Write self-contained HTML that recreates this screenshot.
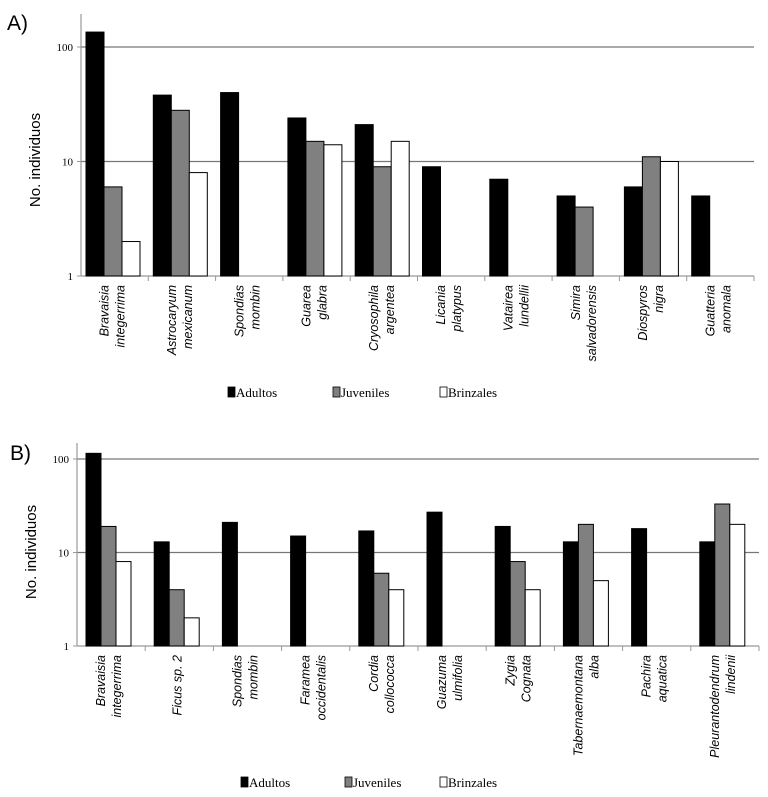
<!DOCTYPE html>
<html><head><meta charset="utf-8"><style>
body{margin:0;background:#fff;}
svg{display:block;}
</style></head><body>
<svg id="chart" width="768" height="797" viewBox="0 0 768 797" font-family="Liberation Sans, sans-serif"></svg>
<script>
const catsA = [["Bravaisia","integerrima"],["Astrocaryum","mexicanum"],["Spondias","mombin"],["Guarea","glabra"],["Cryosophila","argentea"],["Licania","platypus"],["Vatairea","lundellii"],["Simira","salvadorensis"],["Diospyros","nigra"],["Guatteria","anomala"]];
const adultosA = [135,38,40,24,21,9,7,5,6,5];
const juvenilesA = [6,28,0,15,9,0,0,4,11,0];
const brinzalesA = [2,8,0,14,15,0,0,0,10,0];
const catsB = [["Bravaisia","integerrima"],["Ficus sp. 2",""],["Spondias","mombin"],["Faramea","occidentalis"],["Cordia","collococca"],["Guazuma","ulmifolia"],["Zygia","Cognata"],["Tabernaemontana","alba"],["Pachira","aquatica"],["Pleurantodendrum","lindenii"]];
const adultosB = [115,13,21,15,17,27,19,13,18,13];
const juvenilesB = [19,4,0,0,6,0,8,20,0,33];
const brinzalesB = [8,2,0,0,4,0,4,5,0,20];
const yTicks = [1,10,100];
const seriesNames = ["Adultos","Juveniles","Brinzales"];
const fills = ["#000","#808080","#fff"];

const svg = document.getElementById('chart');
const NS = "http://www.w3.org/2000/svg";
const SERIF = "Liberation Serif, serif";
const SANS = "Liberation Sans, sans-serif";
function mk(tag, attrs, parent){const e=document.createElementNS(NS,tag);for(const k in attrs)e.setAttribute(k,attrs[k]);(parent||svg).appendChild(e);return e;}

function panel(cfg){
  const g = mk('g',{});
  
  
  const y = v => cfg.y1 - (Math.log10(v))*(cfg.y1-cfg.y100)/2;
  const cw = (cfg.x1-cfg.x0)/cfg.cats.length;
  const xc = i => cfg.x0 + i*cw;
  const lt = mk('text',{x:cfg.lx,y:cfg.ly,'font-size':21,'font-family':SANS},g);
  lt.textContent = cfg.letter;
  
  
  yTicks.forEach(t=>{
    const yy=y(t);
    if(t>1){const gl=mk('line',{x1:cfg.x0,x2:cfg.x1,y1:yy,y2:yy,stroke:'#777','stroke-width':1.3},g);
      
      }
    mk('line',{x1:cfg.x0-4,x2:cfg.x0,y1:yy,y2:yy,stroke:'#999'},g);
    const tt=mk('text',{x:cfg.x0-8,y:yy+4,'text-anchor':'end','font-family':SERIF,'font-size':11},g);
    tt.textContent=t;
    
    
  });
  const ax=mk('line',{x1:cfg.x0,x2:cfg.x0,y1:cfg.top,y2:cfg.y1,stroke:'#999','stroke-width':1.2},g);
  
  
  const xa=mk('line',{x1:cfg.x0,x2:cfg.x1,y1:cfg.y1,y2:cfg.y1,stroke:'#999','stroke-width':1.2},g);
  
  
  const yt=mk('text',{transform:`translate(${cfg.ytx},${cfg.yty}) rotate(-90)`,'text-anchor':'middle','font-size':15,'font-family':SANS},g);
  yt.textContent='No. individuos';
  
  
  const series=[cfg.a,cfg.j,cfg.b];
  cfg.cats.forEach((c,i)=>{
    mk('line',{x1:xc(i+1),x2:xc(i+1),y1:cfg.y1,y2:cfg.y1+5,stroke:'#999'},g);
    series.forEach((s,k)=>{
      const v=s[i]; if(!v) return;
      const bx=xc(i)+cfg.off+k*cfg.bw;
      const r=mk('rect',{x:bx,y:y(v),width:cfg.bw,height:cfg.y1-y(v),fill:fills[k],stroke:'#000','stroke-width':1},g);
      
      
    });
    const cx=xc(i)+cw/2;
    const lines=c[1]?c:[c[0]];
    lines.forEach((ln,li)=>{
      const dx = cx + (li - (lines.length-1)/2)*16 + 2;
      const t=mk('text',{transform:`translate(${dx},${cfg.y1+9}) rotate(-90)`,'text-anchor':'end','font-style':'italic','font-size':12.5,'font-family':SANS},g);
      t.textContent=ln;
      
      
    });
  });
  cfg.legx.forEach((lx,k)=>{
    const r=mk('rect',{x:lx,y:cfg.legy-10,width:7,height:10,fill:fills[k],stroke:'#000','stroke-width':0.8},g);
    
    
    const t=mk('text',{x:lx+8,y:cfg.legy,'font-family':SERIF,'font-size':13},g);
    t.textContent=seriesNames[k];
    
    
  });
}
panel({name:'chart-a',letter:'A)',lx:7,ly:30,cats:catsA,a:adultosA,j:juvenilesA,b:brinzalesA,
  x0:81,x1:754,top:14,y1:276,y100:47,off:5,bw:18,ytx:40,yty:160,legx:[228,333,440],legy:397});
panel({name:'chart-b',letter:'B)',lx:10,ly:460,cats:catsB,a:adultosB,j:juvenilesB,b:brinzalesB,
  x0:77,x1:759,top:443,y1:646,y100:459,off:9,bw:15,ytx:36,yty:552,legx:[241,345,440],legy:787});
</script>
</body></html>
